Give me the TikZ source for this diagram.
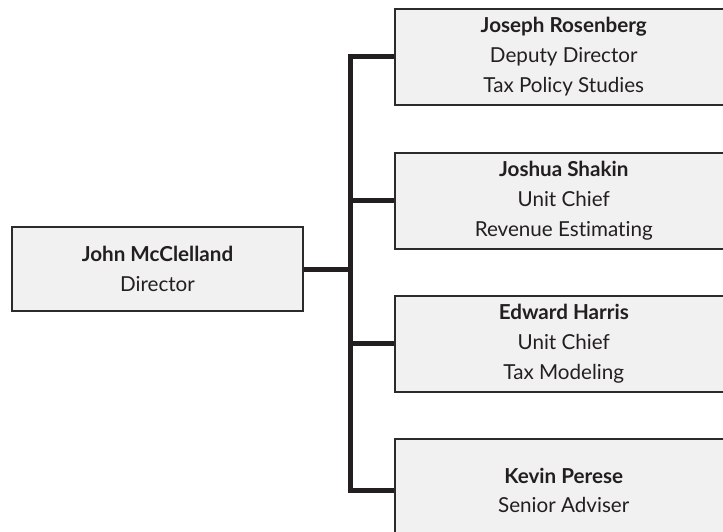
\documentclass[tikz,border=0pt]{standalone}
\usepackage{fontspec}
\setmainfont{Lato}[Ligatures=NoCommon]
\usetikzlibrary{positioning}

\definecolor{boxfill}{HTML}{F0F1F0}
\definecolor{boxline}{HTML}{2B2B2B}
\definecolor{busline}{HTML}{231F20}

\tikzset{
  orgbox/.style={rectangle, draw=boxline, line width=.045cm, fill=boxfill, align=center,
    font=\fontsize{17.6pt}{25.5pt}\selectfont, text=busline},
  staffbox/.style={orgbox, minimum width=10.14cm, minimum height=2.88cm, anchor=north west},
  busline/.style={draw=busline, line width=.15cm}
}

\begin{document}
\begin{tikzpicture}

\useasboundingbox (0,0) rectangle (21.69cm,-15.93cm);

\node (mcclelland) at(4.725cm,-8.07cm) [orgbox, minimum width=8.73cm, minimum height=2.52cm] {\textbf{John McClelland}\\Director};

\node (rosenberg) at(11.82cm,-.24cm) [staffbox] {\textbf{Joseph Rosenberg}\\Deputy Director\\Tax Policy Studies};
\node (shakin) at(11.82cm,-4.56cm) [staffbox] {\textbf{Joshua Shakin}\\Unit Chief\\Revenue Estimating};
\node (harris) at(11.82cm,-8.85cm) [staffbox] {\textbf{Edward Harris}\\Unit Chief\\Tax Modeling};
\node (perese) at(11.82cm,-13.14cm) [staffbox, minimum height=3.1cm] {\textbf{Kevin Perese}\\Senior Adviser};

%-----------------------------------------------------
\coordinate (bus) at (10.5cm,0);

\draw [busline] (rosenberg.west) -- (rosenberg.west -| bus) -- (perese.west -| bus) -- (perese.west);
\draw [busline] (shakin.west) -- (shakin.west -| bus);
\draw [busline] (harris.west) -- (harris.west -| bus);
\draw [busline] (mcclelland.east) -- (mcclelland.east -| bus);

\end{tikzpicture}
\end{document}
